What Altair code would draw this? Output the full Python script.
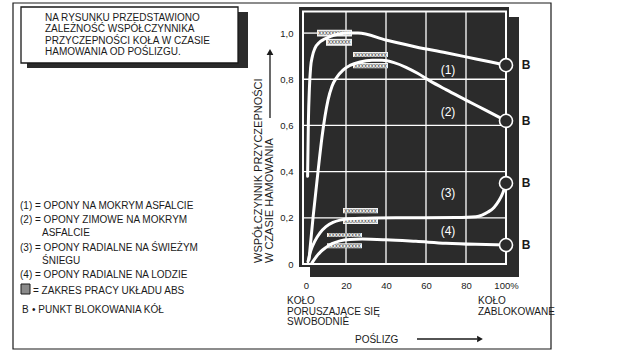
import altair as alt
import pandas as pd

FONT = "Liberation Sans"
DARK = "#2b2b2b"
INK = "#1a1a1a"
OX, OY = 301, 10          # plot origin in the page
W, H = 208, 254           # plot area

# ---------------- data ----------------
c1_x = [0.8, 1.2, 1.7, 2.3, 3.2, 4.5, 6.5, 9, 12, 16, 21, 26, 40, 55, 70, 85, 100]
c1_y = [0.38, 0.62, 0.76, 0.85, 0.90, 0.935, 0.958, 0.973, 0.985, 0.995, 1.0, 1.0, 0.97, 0.94, 0.915, 0.888, 0.861]

c2_x = [1.5, 3.5, 6, 8, 9.5, 11, 13, 15.5, 18.5, 22, 27, 33, 38, 44, 50, 56, 62, 70, 80, 90, 100]
c2_y = [0.02, 0.2, 0.4, 0.55, 0.64, 0.71, 0.77, 0.81, 0.84, 0.86, 0.875, 0.882, 0.882, 0.872, 0.852, 0.825, 0.793, 0.755, 0.71, 0.665, 0.62]

c3_x = [1, 2.5, 4.5, 7, 10, 13.5, 17, 22, 30, 45, 60, 75, 85, 88, 91, 94, 96.5, 98.5, 100]
c3_y = [0.01, 0.06, 0.1, 0.135, 0.162, 0.18, 0.19, 0.196, 0.198, 0.2, 0.2, 0.201, 0.205, 0.212, 0.225, 0.245, 0.275, 0.31, 0.35]

c4_x = [3, 5, 7.5, 10, 13, 17, 22, 28, 40, 55, 70, 85, 100]
c4_y = [0.005, 0.03, 0.055, 0.072, 0.088, 0.1, 0.106, 0.108, 0.105, 0.098, 0.09, 0.085, 0.082]

lock_x = [100, 100, 100, 100]
lock_y = [0.861, 0.62, 0.35, 0.082]
lock_lbl = ["B", "B", "B", "B"]
lock_lbl_x = [110, 110, 110, 110]

curve_lbl = ["(1)", "(2)", "(3)", "(4)"]
curve_lbl_x = [71, 71, 71, 71]
curve_lbl_y = [0.84, 0.66, 0.307, 0.142]

abs_x0 = [5.5, 10, 23.5, 23.5, 18.5, 18.5, 10.5, 10.5]
abs_x1 = [23, 23, 41, 41, 36, 36, 28, 28]
abs_y0 = [0.985, 0.945, 0.896, 0.848, 0.22, 0.173, 0.117, 0.068]
abs_y1 = [1.015, 0.975, 0.918, 0.870, 0.242, 0.198, 0.134, 0.09]

x_ticks = [0, 20, 40, 60, 80, 100]
y_ticks = [0, 0.2, 0.4, 0.6, 0.8, 1.0]
h_grid = [0.2, 0.4, 0.6, 0.8]
v_grid = [20, 40, 60, 80]

curves = pd.concat([
    pd.DataFrame({"curve": name, "x": xs, "y": ys})
    for name, xs, ys in [("1", c1_x, c1_y), ("2", c2_x, c2_y), ("3", c3_x, c3_y), ("4", c4_x, c4_y)]
])
locks = pd.DataFrame({"x": lock_x, "y": lock_y, "lx": lock_lbl_x, "t": lock_lbl})
labels = pd.DataFrame({"x": curve_lbl_x, "y": curve_lbl_y, "t": curve_lbl})
bands = pd.DataFrame({"x0": abs_x0, "x1": abs_x1, "y0": abs_y0, "y1": abs_y1})
hg = pd.DataFrame({"v": h_grid})
vg = pd.DataFrame({"v": v_grid})
one = pd.DataFrame({"a": [0]})

xs = alt.Scale(domain=[-2.5, 101.5], nice=False, zero=False)
ys = alt.Scale(domain=[0, 1.1], nice=False, zero=False)

XAX = alt.Axis(values=x_ticks, labelExpr="datum.value == 100 ? '100%' : datum.label",
               domain=False, ticks=False, grid=False, labelPadding=16, labelFont=FONT,
               labelFontSize=9.5, labelColor=INK, title=None, labelFlush=False)
YAX = alt.Axis(values=y_ticks,
               labelExpr="datum.value == 0 ? '0' : replace(format(datum.value, '.1f'), '.', ',')",
               domain=False, ticks=False, grid=False, labelPadding=8, labelFont=FONT,
               labelFontSize=9.5, labelColor=INK, title=None, labelFlush=False)


def X(f):
    return alt.X(f, scale=xs, axis=XAX)


def Y(f):
    return alt.Y(f, scale=ys, axis=YAX)


def px(v):
    return alt.value(v - OX)


def py(v):
    return alt.value(v - OY)


def box(x0, y0, x1, y1, **kw):
    return alt.Chart(one).mark_rect(**kw).encode(x=px(x0), x2=px(x1), y=py(y0), y2=py(y1))


def txt(s, ax, ay, size=10, color=INK, align="left", baseline="middle", angle=None, weight="normal", lh=None):
    m = dict(text=s, align=align, baseline=baseline, fontSize=size, color=color, font=FONT, fontWeight=weight)
    if angle is not None:
        m["angle"] = angle
    if lh is not None:
        m["lineHeight"] = lh
        m["lineBreak"] = "\n"
    return alt.Chart(one).mark_text(**m).encode(x=px(ax), y=py(ay))


# ---------------- frame & boxes ----------------
frame = box(13, 3, 551, 349, fill="white", fillOpacity=0, stroke=INK, strokeWidth=1.2)
note_shadow = box(27, 12, 248, 68, fill=DARK)
note_box = box(21, 7, 238, 63, fill="white", stroke=INK, strokeWidth=1.3)
plot_shadow = box(310, 17, 519, 277, fill=DARK)
plot_bg = box(299, 7, 509, 267, fill=DARK)
plot_border = box(303, 11.5, 506, 264, fill="white", fillOpacity=0, stroke="white", strokeWidth=2)

# ---------------- grid ----------------
hgrid = alt.Chart(hg).mark_rule(color="white", strokeWidth=1.3).encode(
    y=Y("v:Q"), x=px(303), x2=px(506))
vgrid = alt.Chart(vg).mark_rule(color="white", strokeWidth=1.3).encode(
    x=X("v:Q"), y=py(11.5), y2=py(264))
top_grid = alt.Chart(pd.DataFrame({"a": [-1.5], "b": [5.5], "y": [1.0]})).mark_rule(
    color="white", strokeWidth=1.3).encode(x=X("a:Q"), x2="b:Q", y=Y("y:Q"))

# ---------------- ABS bands ----------------
band_rect = alt.Chart(bands).mark_rect(fill="#f2f2f2").encode(
    x=X("x0:Q"), x2="x1:Q", y=Y("y0:Q"), y2="y1:Q")
band_hatch = alt.Chart(bands).transform_calculate(
    xm="(datum.x0 + datum.x1) / 2", ym="(datum.y0 + datum.y1) / 2",
    pat="substring('xxxxxxxxxxxxxxxxxxxx', 0, floor((datum.x1 - datum.x0) * 2 / 3.5))"
).mark_text(fontSize=6.5, color="#444", font=FONT, baseline="middle").encode(
    x=X("xm:Q"), y=Y("ym:Q"), text="pat:N")

# ---------------- curves ----------------
lines = alt.Chart(curves).mark_line(color="white", strokeWidth=3, interpolate="monotone", strokeCap="round").encode(
    x=X("x:Q"), y=Y("y:Q"), detail="curve:N")

circles = alt.Chart(locks).mark_circle(size=170, fill=DARK, stroke="white", strokeWidth=1.6, opacity=1).encode(
    x=X("x:Q"), y=Y("y:Q"))
b_text = alt.Chart(locks).mark_text(fontSize=12, fontWeight="bold", font=FONT, color=INK).encode(
    x=X("lx:Q"), y=Y("y:Q"), text="t:N")
c_text = alt.Chart(labels).mark_text(fontSize=12, font=FONT, color="white").encode(
    x=X("x:Q"), y=Y("y:Q"), text="t:N")

# ---------------- annotations ----------------
notes = [
    txt("NA RYSUNKU PRZEDSTAWIONO\nZALEŻNOŚĆ WSPÓŁCZYNNIKA\nPRZYCZEPNOŚCI KOŁA W CZASIE\nHAMOWANIA OD POŚLIZGU.",
        45, 18, size=10, lh=11.4),
    txt("(1) = OPONY NA MOKRYM ASFALCIE", 20, 206, size=10),
    txt("(2) = OPONY ZIMOWE NA MOKRYM", 20, 220, size=10),
    txt("ASFALCIE", 42, 233, size=10),
    txt("(3) = OPONY RADIALNE NA ŚWIEŻYM", 20, 248, size=10),
    txt("ŚNIEGU", 42, 261, size=10),
    txt("(4) = OPONY RADIALNE NA LODZIE", 20, 275, size=10),
    txt("= ZAKRES PRACY UKŁADU ABS", 33, 291, size=10),
    txt("B", 22, 310, size=10),
    txt("• PUNKT BLOKOWANIA KÓŁ", 32, 310, size=10),
    txt("WSPÓŁCZYNNIK PRZYCZEPNOŚCI", 259, 263, size=11, angle=270),
    txt("W CZASIE HAMOWANIA", 270, 263, size=11, angle=270),
    txt("KOŁO\nPORUSZAJĄCE SIĘ\nSWOBODNIE", 287, 301, size=10, lh=10.6),
    txt("KOŁO\nZABLOKOWANE", 478, 301, size=10, lh=10.6),
    txt("POŚLIZG", 355, 340, size=10),
]

legend_icon = box(21, 284, 30, 294, fill="#8a8a8a", stroke=INK, strokeWidth=1)

y_arrow = alt.Chart(one).mark_rule(color=INK, strokeWidth=1.3).encode(x=px(270), y=py(55), y2=py(118))
y_head = alt.Chart(one).mark_point(shape="triangle-up", filled=True, size=45, color=INK, opacity=1).encode(
    x=px(270), y=py(52))
x_arrow = alt.Chart(one).mark_rule(color=INK, strokeWidth=1.3).encode(x=px(417), x2=px(477), y=py(339))
x_head = alt.Chart(one).mark_point(shape="triangle-right", filled=True, size=45, color=INK, opacity=1).encode(
    x=px(480), y=py(339))

chart = alt.layer(
    frame, note_shadow, note_box, plot_shadow, plot_bg, plot_border,
    hgrid, vgrid, top_grid, band_rect, band_hatch, lines, circles, b_text, c_text,
    legend_icon, y_arrow, y_head, x_arrow, x_head, *notes
).properties(
    width=W, height=H, autosize="none",
    padding={"left": OX, "top": OY, "right": 623 - OX - W, "bottom": 352 - OY - H},
    background="white",
).configure_view(stroke=None)

chart.save("out.html", embed_options={"renderer": "svg", "actions": False})
